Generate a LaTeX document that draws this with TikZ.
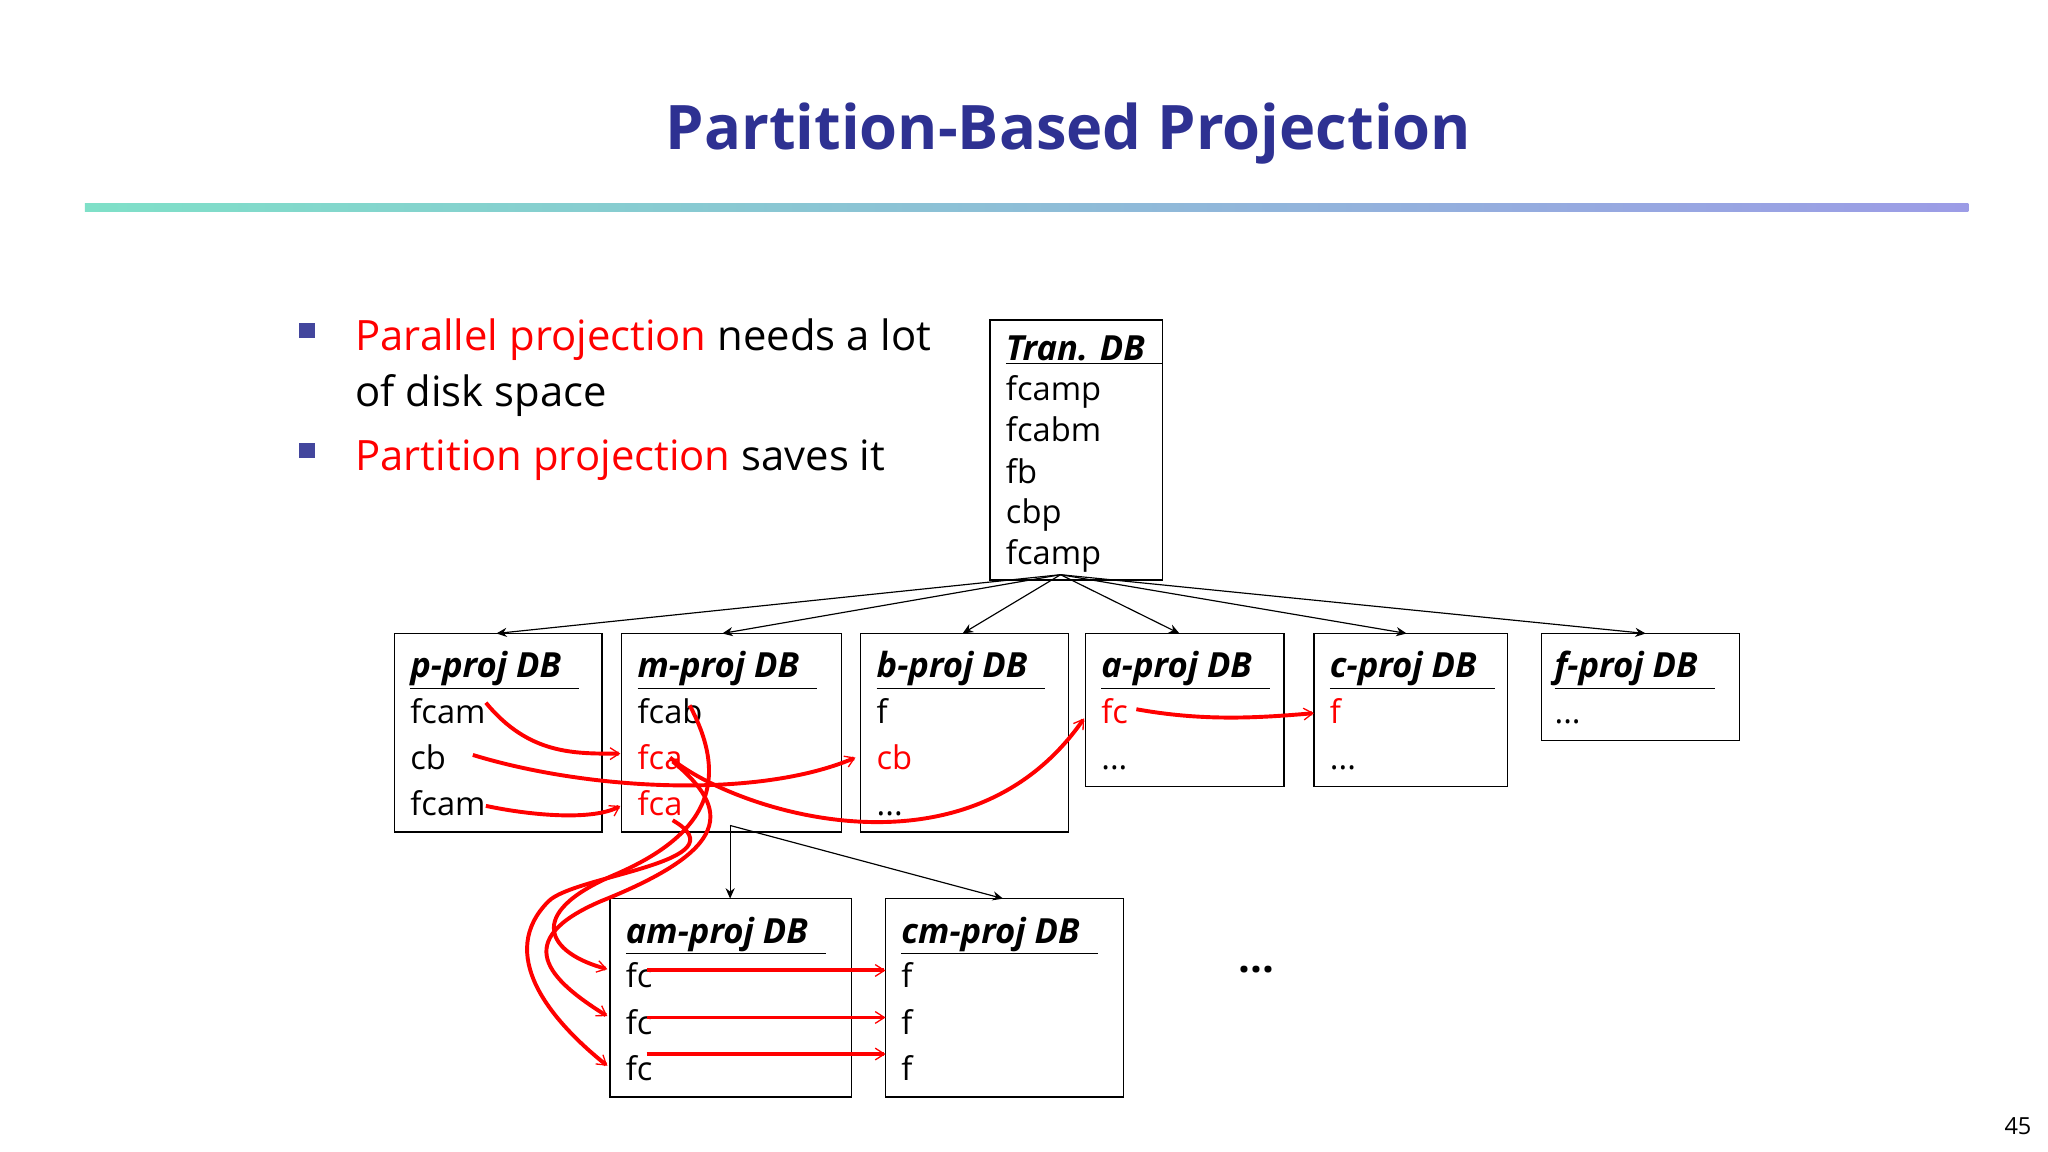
\documentclass[tikz,border=0pt]{standalone}
\usepackage{fontspec}
\setmainfont{Open Sans}
\usetikzlibrary{arrows.meta}
\definecolor{ttl}{HTML}{2E3192}
\definecolor{gA}{HTML}{7FE0C8}
\definecolor{gB}{HTML}{9C9CE6}
\tikzset{
 box/.style={draw,line width=1pt},
 ln/.style={anchor=base west,inner sep=0pt,font=\fontsize{25}{25}\selectfont},
 hd/.style={ln,font=\fontsize{26.5}{26.5}\selectfont\bfseries\itshape},
 rl/.style={ln,text=red},
 blk/.style={-{Stealth[length=8pt,width=7pt]},line width=0.9pt},
 ra/.style={red,line width=3pt,-{Straight Barb[length=7pt,width=9pt,line width=1pt]}},
}
\newcommand{\hdt}[1]{\underline{#1\ \ }}
\begin{document}
\begin{tikzpicture}[x=1pt,y=-1pt]
\useasboundingbox (0,0) rectangle (1568,882);
\node[text=ttl,font=\fontsize{47}{47}\selectfont\bfseries] (title) at (818,102) {Partition-Based Projection};
\shade[left color=gA,right color=gB] (65,156) rectangle (1507,162);
% bullets
\fill[ttl!90] (229,247) rectangle (241,259);
\fill[ttl!90] (229,339) rectangle (241,351);
\node[ln,font=\fontsize{32}{32}\selectfont] (b1) at (272,268) {\textcolor{red}{Parallel projection} needs a lot};
\node[ln,font=\fontsize{32}{32}\selectfont] (b1b) at (272,311) {of disk space};
\node[ln,font=\fontsize{32}{32}\selectfont] (b2) at (272,360) {\textcolor{red}{Partition projection} saves it};
% Tran DB
\draw[box] (758,245) rectangle (890,444);
\node[hd] (th) at (770,276) {\hdt{Tran. DB}};
\node[ln] (t1) at (770,307) {fcamp};
\node[ln] (t2) at (770,338) {fcabm};
\node[ln] (t3) at (770,370) {fb};
\node[ln] (t4) at (770,401) {cbp};
\node[ln] (t5) at (770,432) {fcamp};
\coordinate (src) at (812,440);
% boxes row
\draw[box] (302,485) rectangle (461,637);
\draw[box] (476,485) rectangle (644,637);
\draw[box] (659,485) rectangle (818,637);
\draw[box] (831,485) rectangle (983,602);
\draw[box] (1006,485) rectangle (1154,602);
\draw[box] (1180,485) rectangle (1332,567);
\coordinate (pt) at (380,485); \coordinate (mt) at (553,485); \coordinate (bt) at (737,485);
\coordinate (at) at (903,485); \coordinate (ct) at (1077,485); \coordinate (ft) at (1260,485);
\foreach \t in {pt,mt,bt,at,ct,ft} \draw[blk] (src) -- (\t);
% texts
\node[hd] (ph) at (314,519) {\hdt{p-proj DB}};
\node[ln] (p1) at (314,554) {fcam};
\node[ln] (p2) at (314,589) {cb};
\node[ln] (p3) at (314,624) {fcam};
\node[hd] (mh) at (488,519) {\hdt{m-proj DB}};
\node[ln] (m1) at (488,554) {fcab};
\node[rl] (m2) at (488,589) {fca};
\node[rl] (m3) at (488,624) {fca};
\node[hd] (bh) at (671,519) {\hdt{b-proj DB}};
\node[ln] (b1x) at (671,554) {f};
\node[rl] (b2x) at (671,589) {cb};
\node[ln] (b3x) at (671,624) {...};
\node[hd] (ah) at (843,519) {\hdt{a-proj DB}};
\node[rl] (a1) at (843,554) {fc};
\node[ln] (a2) at (843,589) {...};
\node[hd] (ch) at (1018,519) {\hdt{c-proj DB}};
\node[rl] (c1) at (1018,554) {f};
\node[ln] (c2) at (1018,589) {...};
\node[hd] (fh) at (1190,519) {\hdt{f-proj DB}};
\node[ln] (f1) at (1190,554) {...};
% bottom boxes
\draw[box] (467,688) rectangle (652,840);
\draw[box] (678,688) rectangle (860,840);
\coordinate (mb) at (559,632);
\coordinate (amt) at (559,688); \coordinate (cmt) at (768,688);
\draw[blk] (mb) -- (amt);
\draw[blk] (mb) -- (cmt);
\node[hd] (amh) at (479,722) {\hdt{am-proj DB}};
\node[ln] (am1) at (479,756) {fc};
\node[ln] (am2) at (479,792) {fc};
\node[ln] (am3) at (479,827) {fc};
\node[hd] (cmh) at (690,722) {\hdt{cm-proj DB}};
\node[ln] (cm1) at (690,756) {f};
\node[ln] (cm2) at (690,792) {f};
\node[ln] (cm3) at (690,827) {f};
\node[font=\fontsize{32}{32}\selectfont\bfseries] (dots) at (962,742) {...};
\node[font=\fontsize{18}{18}\selectfont] (pg) at (1545,862) {45};
% red arrows
\coordinate (pA) at (372,538); \coordinate (mA) at (475,577);
\draw[ra] (pA) .. controls (405,578) and (440,577) .. (mA);
\coordinate (pB) at (362,578); \coordinate (bB) at (655,580);
\draw[ra] (pB) .. controls (450,605) and (580,612) .. (bB);
\coordinate (pC) at (372,617); \coordinate (mC) at (475,617);
\draw[ra] (pC) .. controls (410,625) and (455,628) .. (mC);
\coordinate (mF) at (513,580); \coordinate (aF) at (830,550);
\draw[ra] (mF) .. controls (560,620) and (740,680) .. (aF);
\coordinate (aS) at (870,543); \coordinate (cS) at (1006,546);
\draw[ra] (aS) .. controls (920,552) and (960,550) .. (cS);
\coordinate (mX) at (528,540); \coordinate (mY) at (515,583); \coordinate (mZ) at (515,628);
\coordinate (e1) at (465,742); \coordinate (e2) at (465,778); \coordinate (e3) at (465,816);
\draw[ra] (mX) .. controls (560,600) and (540,640) .. (470,670) .. controls (400,700) and (420,730) .. (e1);
\draw[ra] (mY) .. controls (560,620) and (560,650) .. (460,690) .. controls (390,720) and (420,750) .. (e2);
\draw[ra] (mZ) .. controls (570,660) and (440,670) .. (420,690) .. controls (380,730) and (420,780) .. (e3);
\foreach \i/\y in {1/743,2/779,3/807}{
  \coordinate (s\i) at (495,\y); \coordinate (t\i) at (678,\y);
  \draw[ra] (s\i) -- (t\i);
}
\end{tikzpicture}
\end{document}
